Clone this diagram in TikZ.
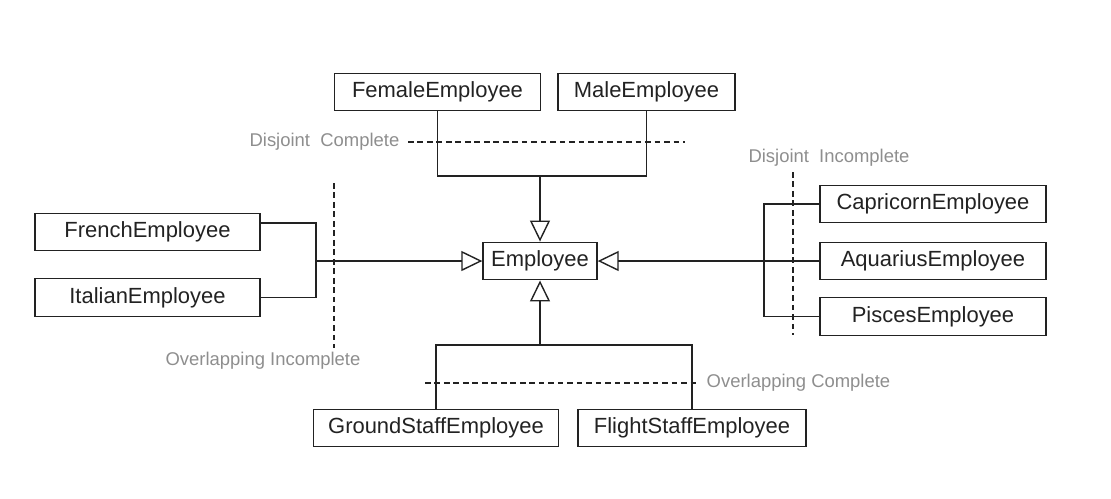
\documentclass[tikz,border=0pt]{standalone}
\usepackage{fontspec}
\setmainfont{Liberation Sans}
\usepackage{tikz}
\usetikzlibrary{arrows.meta}
\definecolor{ink}{HTML}{222222}
\definecolor{note}{HTML}{8E8E8E}

\begin{document}
\begin{tikzpicture}[x=0.02cm,y=-0.02cm,line width=0.8pt]
        \tikzstyle{every node} = [rectangle]
        \tikzstyle{cls} = [draw=ink, text=ink, minimum height=0.75cm, inner sep=0pt, font=\fontsize{12.5}{14}\selectfont]
        \tikzstyle{lbl} = [text=note, inner sep=0pt, font=\fontsize{10.5}{12}\selectfont]
        \tikzstyle{isa} = [-{Triangle[open,length=0.42cm,width=0.4cm]}]
        \tikzstyle{sep} = [draw=ink, line width=0.7pt, dash pattern=on 3.2pt off 2.2pt]
        \useasboundingbox (0,0) rectangle (1111,498);

        \node[cls, minimum width=2.28cm] (emp) at (540,261) {Employee};
        \node[cls, minimum width=4.12cm] (female) at (437.5,92) {FemaleEmployee};
        \node[cls, minimum width=3.54cm] (male) at (646.5,92) {MaleEmployee};
        \node[cls, minimum width=4.5cm] (french) at (147.5,232) {FrenchEmployee};
        \node[cls, minimum width=4.5cm] (italian) at (147.5,297.5) {ItalianEmployee};
        \node[cls, minimum width=4.52cm] (capricorn) at (933,204) {CapricornEmployee};
        \node[cls, minimum width=4.52cm] (aquarius) at (933,261) {AquariusEmployee};
        \node[cls, minimum width=4.52cm] (pisces) at (933,316.5) {PiscesEmployee};
        \node[cls, minimum width=4.9cm] (ground) at (436,428) {GroundStaffEmployee};
        \node[cls, minimum width=4.56cm] (flight) at (692,428) {FlightStaffEmployee};

        \coordinate (top) at (540,176);
        \coordinate (left) at (316,261);
        \coordinate (right) at (764,261);
        \coordinate (bottom) at (540,345);

        \draw[ink] (female.south) |- (top) -| (male.south);
        \draw[ink,isa] (top) -- (emp.north);
        \draw[ink] ([yshift=0.18cm]french.east) -| (left) |- (italian.east);
        \draw[ink,isa] (left) -- (emp.west);
        \draw[ink] (capricorn.west) -| (right) |- (pisces.west);
        \draw[ink] (aquarius.west) -- (right);
        \draw[ink,isa] (right) -- (emp.east);
        \draw[ink] (ground.north) |- (bottom) -| (flight.north);
        \draw[ink,isa] (bottom) -- (emp.south);

        \node[lbl, anchor=east] (dc) at (400,142) {Disjoint\ \ Complete};
        \node[lbl] (di) at (829,158) {Disjoint\ \ Incomplete};
        \node[lbl] (oi) at (263,361) {Overlapping Incomplete};
        \node[lbl, anchor=west] (oc) at (706,383) {Overlapping Complete};
        \draw[sep] (408,142) -- (685,142);
        \draw[sep] (793,172) -- (793,335);
        \draw[sep] (334,183) -- (334,348);
        \draw[sep] (425,383) -- (700,383);
\end{tikzpicture}
\end{document}
